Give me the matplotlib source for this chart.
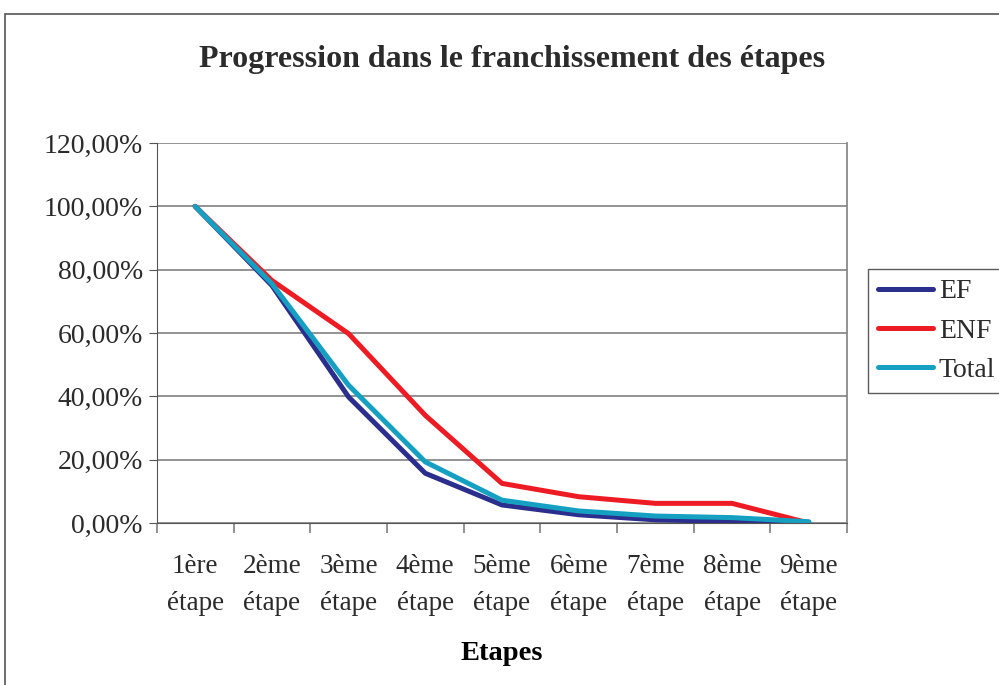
import numpy as np
import matplotlib
matplotlib.use("Agg")
from matplotlib import pyplot as plt
from matplotlib.ticker import FuncFormatter, MultipleLocator
from matplotlib.patches import Rectangle

plt.rcParams['font.family'] = ['Liberation Serif', 'DejaVu Serif']
plt.rcParams['text.color'] = "#2b2b2b"
plt.rcParams['xtick.labelcolor'] = "#2b2b2b"
plt.rcParams['ytick.labelcolor'] = "#2b2b2b"

categories = ["1ère\nétape", "2ème\nétape", "3ème\nétape", "4ème\nétape", "5ème\nétape",
              "6ème\nétape", "7ème\nétape", "8ème\nétape", "9ème\nétape"]
ef = [100.0, 75.0, 39.8, 15.7, 5.7, 2.6, 1.0, 0.5, 0.2]
enf = [100.0, 76.6, 59.8, 34.0, 12.5, 8.3, 6.2, 6.2, 0.0]
total = [100.0, 75.6, 43.5, 19.3, 7.2, 3.8, 2.2, 1.7, 0.4]

fig = plt.figure(figsize=(9.99, 6.85), dpi=100)
# outer chart frame
fig.patches.append(Rectangle((0.005, -0.01), 1.0, 0.99, transform=fig.transFigure,
                             fill=False, edgecolor="#555555", linewidth=1.2))

ax = fig.add_axes([0.157, 0.2365, 0.691, 0.5547])
x = np.arange(len(categories))
ax.plot(x, ef, color="#2B2E8C", lw=3.6, label="EF", solid_capstyle="round")
ax.plot(x, enf, color="#ED1C24", lw=3.6, label="ENF", solid_capstyle="round")
ax.plot(x, total, color="#159FC0", lw=3.6, label="Total", solid_capstyle="round")

ax.set_xlim(-0.5, 8.5)
ax.set_ylim(0, 120)
ax.yaxis.set_major_locator(MultipleLocator(20))
ax.yaxis.set_major_formatter(FuncFormatter(lambda v, p: f"{v:.2f}%".replace(".", ",")))
ax.yaxis.grid(True, color="#808080", lw=1.2)
ax.set_axisbelow(True)

ax.set_xticks(x)
ax.set_xticklabels(categories, fontsize=19.5, linespacing=1.65)
ax.set_xticks(np.arange(-0.5, 9, 1), minor=True)
ax.tick_params(axis="x", which="major", length=0, pad=22)
ax.tick_params(axis="x", which="minor", length=7, color="#808080", width=1.2)
ax.tick_params(axis="y", labelsize=20, length=6, color="#555555", pad=4)

ax.spines["top"].set_visible(False)
ax.spines["right"].set_color("#808080")
ax.spines["right"].set_linewidth(1.2)
ax.spines["left"].set_color("#555555")
ax.spines["bottom"].set_color("#555555")

ax.set_xlabel("Etapes", fontsize=20.5, fontweight="bold", labelpad=18)
fig.text(0.513, 0.913, "Progression dans le franchissement des étapes",
         ha="center", va="center", fontsize=23, fontweight="bold")

leg = ax.legend(loc="upper left", bbox_to_anchor=(0.869, 0.607), bbox_transform=fig.transFigure,
                borderaxespad=0, fontsize=20, frameon=True, fancybox=False,
                handlelength=2.0, handletextpad=0.2, labelspacing=0.5, borderpad=0.35)
leg.get_frame().set_edgecolor("#333333")
leg.get_frame().set_linewidth(1.0)

plt.savefig("out.png", dpi=100)
